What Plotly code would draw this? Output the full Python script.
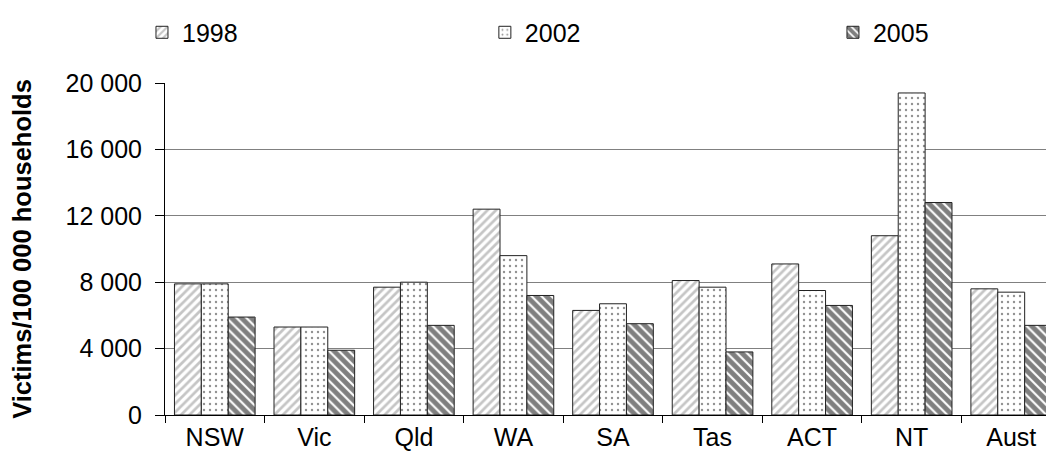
import plotly.graph_objects as go

categories = ["NSW", "Vic", "Qld", "WA", "SA", "Tas", "ACT", "NT", "Aust"]
years = ["1998", "2002", "2005"]
v1998 = [7900, 5300, 7700, 12400, 6300, 8100, 9100, 10800, 7600]
v2002 = [7900, 5300, 8000, 9600, 6700, 7700, 7500, 19400, 7400]
v2005 = [5900, 3900, 5400, 7200, 5500, 3800, 6600, 12800, 5400]
tick_vals = [0, 4000, 8000, 12000, 16000, 20000]
tick_text = ["0", "4 000", "8 000", "12 000", "16 000", "20 000"]

series = [v1998, v2002, v2005]
patterns = [
    dict(shape="/", fgcolor="#8c8c8c", bgcolor="white", size=6, solidity=0.45),
    dict(shape=".", fgcolor="#222222", bgcolor="white", size=6, solidity=0.12),
    dict(shape="\\", fgcolor="black", bgcolor="white", size=7, solidity=0.7),
]
legend_ids = ["legend", "legend2", "legend3"]
legend_x = [-0.0257, 0.357, 0.7455]

fig = go.Figure()
for name, vals, pat, lid in zip(years, series, patterns, legend_ids):
    fig.add_trace(go.Bar(
        x=categories, y=vals, name=name, legend=lid,
        marker=dict(color="white", pattern=pat, line=dict(color="#222222", width=1)),
    ))

legend_common = dict(orientation="h", xanchor="left", y=1.152, yanchor="middle",
                     font=dict(size=25), itemwidth=30, bgcolor="rgba(0,0,0,0)")
fig.update_layout(
    width=1054, height=459,
    paper_bgcolor="white", plot_bgcolor="white",
    font=dict(family="Liberation Sans", size=25, color="black"),
    margin=dict(l=157, r=1, t=72, b=52),
    barmode="group", bargap=0.19, bargroupgap=0,
    legend=dict(x=legend_x[0], **legend_common),
    legend2=dict(x=legend_x[1], **legend_common),
    legend3=dict(x=legend_x[2], **legend_common),
    showlegend=True,
)
fig.update_xaxes(
    showline=True, linecolor="black", linewidth=1,
    ticks="outside", tickson="boundaries", ticklen=7, tickcolor="black",
    showgrid=False, tickfont=dict(size=25),
)
fig.update_yaxes(
    range=[0, 20000], tickvals=tick_vals, ticktext=tick_text,
    showline=True, linecolor="black", linewidth=1,
    ticks="outside", ticklen=9, tickcolor="black", ticklabelstandoff=8,
    showgrid=True, gridcolor="#808080", gridwidth=1,
    zeroline=False, tickfont=dict(size=25),
    title=dict(text="<b>Victims/100 000 households</b>", standoff=27, font=dict(size=25.5)),
)
fig.write_html("out.html")
